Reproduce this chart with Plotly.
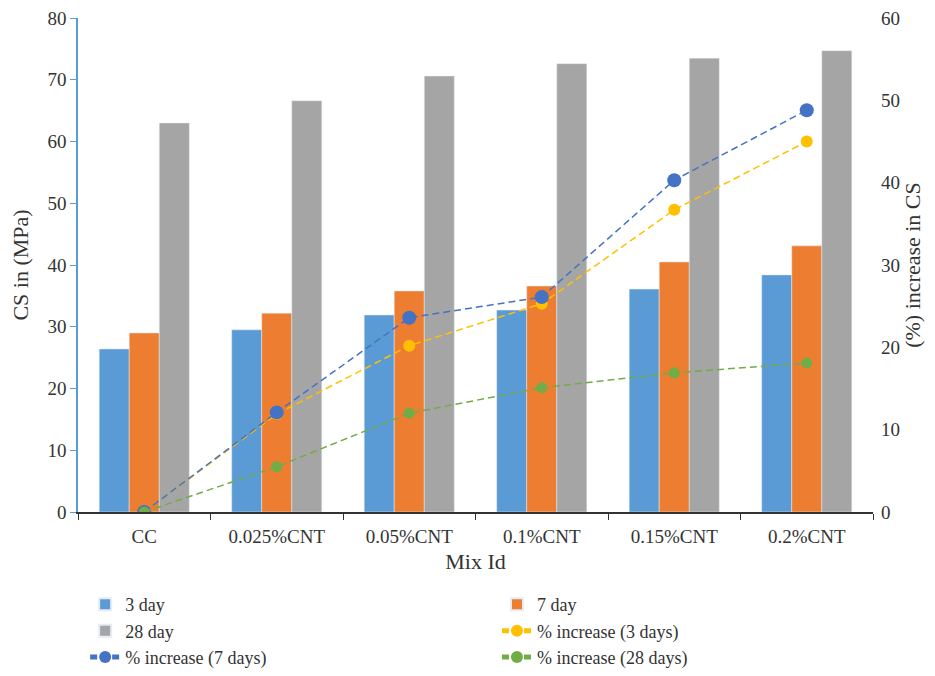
import plotly.graph_objects as go

categories = ["CC", "0.025%CNT", "0.05%CNT", "0.1%CNT", "0.15%CNT", "0.2%CNT"]
cs_3day = [26.4, 29.5, 31.9, 32.7, 36.1, 38.4]
cs_7day = [29.0, 32.2, 35.8, 36.6, 40.5, 43.1]
cs_28day = [63.0, 66.6, 70.6, 72.6, 73.5, 74.7]
inc_3days = [0, 11.9, 20.2, 25.3, 36.7, 45.0]
inc_7days = [0, 12.1, 23.6, 26.1, 40.3, 48.8]
inc_28days = [0, 5.5, 12.0, 15.1, 16.9, 18.1]

FONT = "Liberation Serif"
TXT = "#333333"

fig = go.Figure()
fig.add_trace(go.Bar(x=categories, y=cs_3day, name="3 day", marker_color="#5B9BD5",
                     yaxis="y", legend="legend"))
fig.add_trace(go.Bar(x=categories, y=cs_7day, name="7 day", marker_color="#ED7D31",
                     yaxis="y", legend="legend2"))
fig.add_trace(go.Bar(x=categories, y=cs_28day, name="28 day", marker_color="#A5A5A5",
                     yaxis="y", legend="legend"))
fig.add_trace(go.Scatter(x=categories, y=inc_3days, name="% increase (3 days)", yaxis="y2",
                         mode="lines+markers", line=dict(color="#FFC000", width=1.5, dash="7px,4px"),
                         marker=dict(color="#FFC000", size=12), legend="legend2"))
fig.add_trace(go.Scatter(x=categories, y=inc_7days, name="% increase (7 days)", yaxis="y2",
                         mode="lines+markers", line=dict(color="#4472C4", width=1.5, dash="7px,4px"),
                         marker=dict(color="#4472C4", size=14), legend="legend"))
fig.add_trace(go.Scatter(x=categories, y=inc_28days, name="% increase (28 days)", yaxis="y2",
                         mode="lines+markers", line=dict(color="#70AD47", width=1.5, dash="7px,4px"),
                         marker=dict(color="#70AD47", size=11), legend="legend2"))

legend_common = dict(orientation="v", yanchor="top", xanchor="left", traceorder="normal",
                     itemsizing="constant", bgcolor="rgba(0,0,0,0)",
                     font=dict(family=FONT, size=18, color=TXT))

fig.update_layout(
    width=935, height=676,
    margin=dict(l=70, r=70, t=10, b=172, autoexpand=False),
    paper_bgcolor="white", plot_bgcolor="white",
    font=dict(family=FONT, size=18, color=TXT),
    barmode="group", bargap=0.32, bargroupgap=0,
    showlegend=True,
    legend=dict(x=0.009, y=-0.150, **legend_common),
    legend2=dict(x=0.527, y=-0.150, **legend_common),
    xaxis=dict(type="category", showline=True, linecolor="#333333", linewidth=1.5,
               ticks="outside", tickson="boundaries", ticklen=6, tickcolor="#333333",
               showgrid=False, title=dict(text="Mix Id", standoff=8),
               ticklabelstandoff=6,
               tickfont=dict(family=FONT, size=19, color=TXT)),
    yaxis=dict(range=[0, 80], dtick=10, showline=True, linecolor="#5B9BD5", linewidth=1.5,
               ticks="outside", ticklen=6, tickcolor="#5B9BD5", showgrid=False, zeroline=False,
               ticklabeloverflow="allow",
               title=dict(text="CS in (MPa)", standoff=14),
               tickfont=dict(family=FONT, size=19, color=TXT)),
    yaxis2=dict(range=[0, 60], dtick=10, overlaying="y", side="right", showline=False,
                showgrid=False, zeroline=False, ticks="",
                ticklabeloverflow="allow", ticklabelstandoff=7,
                title=dict(text="(%) increase in CS", standoff=3),
                tickfont=dict(family=FONT, size=19, color=TXT)),
)

fig.write_html("out.html")
